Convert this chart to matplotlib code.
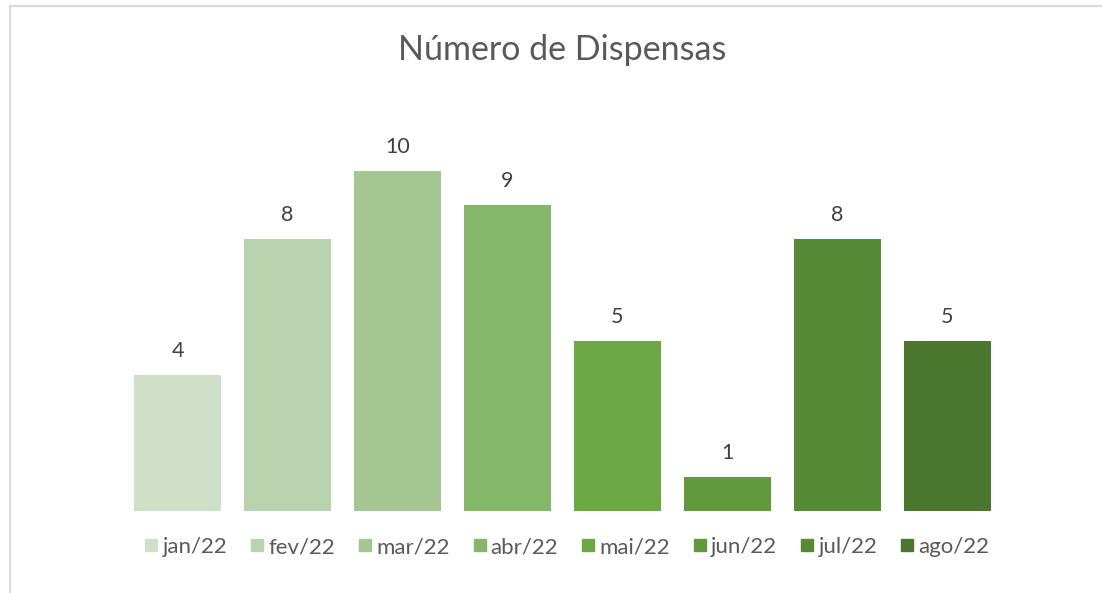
import matplotlib
matplotlib.use("Agg")
import matplotlib.pyplot as plt
from matplotlib.lines import Line2D

plt.rcParams['font.family'] = ['Lato', 'DejaVu Sans']

categories = ["jan/22", "fev/22", "mar/22", "abr/22", "mai/22", "jun/22", "jul/22", "ago/22"]
values = [4, 8, 10, 9, 5, 1, 8, 5]
colors = ["#D0DFC8", "#B8D3AD", "#A3C693", "#84B76A", "#6CA843", "#62983E", "#578A36", "#4A772D"]
title = "Número de Dispensas"

W, H = 1102, 593
fig = plt.figure(figsize=(W / 100, H / 100), dpi=100)
fig.patch.set_facecolor("white")

# chart-area border (top and left visible)
fig.add_artist(Line2D([9.5 / W, 9.5 / W], [0, 1 - 5.5 / H], transform=fig.transFigure,
                      color="#D9D9D9", lw=1.5))
fig.add_artist(Line2D([9.5 / W, 1], [1 - 5.5 / H, 1 - 5.5 / H], transform=fig.transFigure,
                      color="#D9D9D9", lw=1.5))

ax_left, ax_right = 122.5, 1002.5
ax_bottom, ax_top = 511, 103
ax = fig.add_axes([ax_left / W, 1 - ax_bottom / H, (ax_right - ax_left) / W, (ax_bottom - ax_top) / H])
x = list(range(len(categories)))
bars = ax.bar(x, values, width=0.79, color=colors)
ax.set_xlim(-0.5, len(categories) - 0.5)
ax.set_ylim(0, 12)
ax.axis("off")

for xi, v in zip(x, values):
    ax.annotate(str(v), (xi, v), xytext=(0, 24), textcoords="offset pixels",
                ha="center", va="center", fontsize=15.5, color="#404040")

fig.text(562 / W, 1 - 50 / H, title, ha="center", va="center", fontsize=24.5, color="#595959")

handles = [Line2D([], [], linestyle="none", marker="s", markersize=9, markerfacecolor=c,
                  markeredgecolor=c) for c in colors]
fig.legend(handles, categories, ncol=8, loc="center", bbox_to_anchor=(567 / W, 1 - 547 / H),
           frameon=False, fontsize=16, handlelength=0.6, handletextpad=0.2, columnspacing=1.05,
           labelcolor="#595959")

fig.savefig("out.png", dpi=100, facecolor="white")
